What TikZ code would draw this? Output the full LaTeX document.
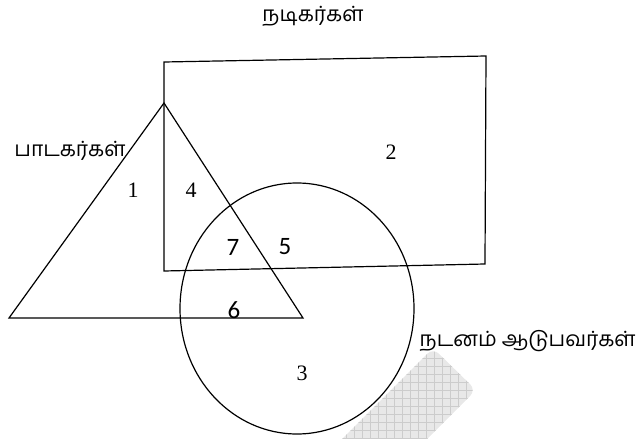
\documentclass[tikz,border=0pt]{standalone}
\usepackage{fontspec}
\setmainfont{Liberation Serif}
\newfontfamily\tamilfont[Script=Tamil]{Hind Madurai}
\newfontfamily\calfont{Carlito}
\usetikzlibrary{positioning}

\begin{document}
\begin{tikzpicture}[x=1pt, y=-1pt, line width=1.2pt]
        \useasboundingbox (0,0) rectangle (641,439);

        % Shaded patch
        \begin{scope}
            \clip[rounded corners=8pt] (433,348) -- (476,390) -- (376,490) -- (333,448) -- cycle;
            \fill[gray!18] (320,340) rectangle (490,439);
            \foreach \gx in {322,330,...,490} \draw[gray!40, line width=0.4pt] (\gx,340) -- (\gx,439);
            \foreach \gy in {342,350,...,439} \draw[gray!40, line width=0.4pt] (320,\gy) -- (490,\gy);
        \end{scope}

        % Sets
        \draw (164,62) -- (486,56) -- (485,264) -- (164,271) -- cycle;
        \draw (164,103) -- (9,318) -- (303,318) -- cycle;
        \draw (297,308.5) ellipse [x radius=117, y radius=125.5];

        % Set names
        \node[font=\tamilfont\fontsize{21}{24}\selectfont] (actors) at (313,16) {நடிகர்கள்};
        \node[font=\tamilfont\fontsize{21}{24}\selectfont] (singers) at (70,151) {பாடகர்கள்};
        \node[font=\tamilfont\fontsize{21}{24}\selectfont, anchor=west, inner sep=0pt] (dancers) at (419,341) {நடனம் ஆடுபவர்கள்};

        % Regions
        \node[font=\fontsize{22}{24}\selectfont] (r1) at (133,190) {1};
        \node[font=\fontsize{22}{24}\selectfont] (r2) at (391,152) {2};
        \node[font=\fontsize{22}{24}\selectfont] (r3) at (302,373) {3};
        \node[font=\fontsize{22}{24}\selectfont] (r4) at (191,190) {4};
        \node[font=\calfont\fontsize{25}{27}\selectfont] (r5) at (285,247) {5};
        \node[font=\calfont\fontsize{25}{27}\selectfont] (r6) at (234,310) {6};
        \node[font=\calfont\fontsize{25}{27}\selectfont] (r7) at (233,247) {7};
    \end{tikzpicture}
\end{document}
